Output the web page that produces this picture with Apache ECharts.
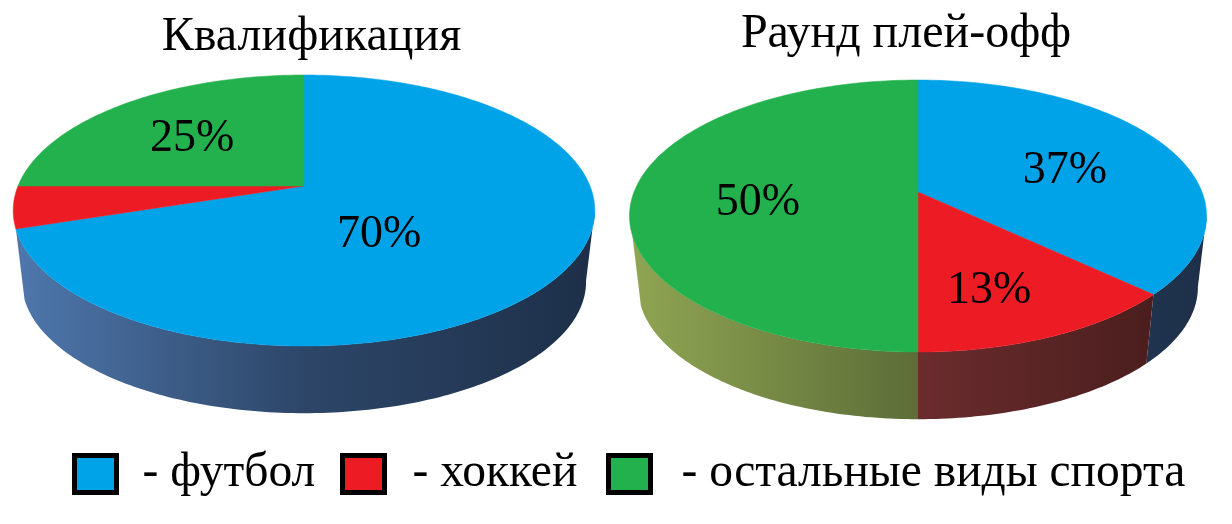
<!DOCTYPE html>
<html><head><meta charset="utf-8">
<style>html,body{margin:0;padding:0;background:#fff}#c{width:1232px;height:524px}</style>
<script src="https://cdn.jsdelivr.net/npm/echarts@6/dist/echarts.min.js"></script>
</head><body><div id="c"></div>
<script>
// ---- data ----
var categories = ['футбол', 'хоккей', 'остальные виды спорта'];
var stages = ['Квалификация', 'Раунд плей-офф'];
var qualificationShares = [70, 5, 25];
var playoffShares = [37, 13, 50];
var minLabelledShare = 10;

// ---- styles and layout ----
var topColors = ['#00a2e8', '#ed1c24', '#22b14c'];
var wallStops = [
  ['#4f78ad', '#2d4668', '#1d2f48'],
  ['#9a4244', '#6b2c2e', '#431b19'],
  ['#90a653', '#5c6d37', '#3d4a25']
];
var font = '"Liberation Serif","Times New Roman",serif';
var pies = [
  {cx: 304, top: 75, apex: 186, bottom: 346, halfWidth: 286, bboxL: 13, bboxR: 595},
  {cx: 918, top: 80, apex: 192, bottom: 352, halfWidth: 284, bboxL: 628, bboxR: 1207}
];
var labelNudges = [
  [[-60, 4], [0, 0], [-8, 1]],
  [[9, 7], [3, 26], [-4, 11]]
];
var wallDrop = 72, wallScale = 0.97;
var wallFrom = 100, wallTo = 252;
var sharesByPie = [qualificationShares, playoffShares];

pies.forEach(function (p) {
  p.c = (2 * p.apex - p.top - p.bottom) / (p.bottom - p.top);
  p.a = p.bottom * (1 + p.c) - p.apex;
});
function project(p, deg, r) {
  var t = deg * Math.PI / 180, u = Math.sin(t) * r, v = -Math.cos(t) * r;
  var d = 1 + p.c * v;
  return [p.cx + p.halfWidth * u / d, (p.a * v + p.apex) / d];
}
function lowered(p, pt) {
  return [p.cx + (pt[0] - p.cx) * wallScale, p.apex + (pt[1] - p.apex) * wallScale + wallDrop];
}
function arc(p, from, to) {
  var out = [], n = Math.max(2, Math.ceil(Math.abs(to - from)));
  for (var i = 0; i <= n; i++) out.push(project(p, from + (to - from) * i / n, 1));
  return out;
}
function renderSegment(params, api) {
  var pieIdx = api.value(0), share = api.value(1), start = api.value(2);
  var cat = params.seriesIndex, p = pies[pieIdx];
  var a0 = start * 3.6, a1 = (start + share) * 3.6;
  var children = [];
  var w0 = Math.max(a0, wallFrom), w1 = Math.min(a1, wallTo);
  if (w1 > w0) {
    var rim = arc(p, w0, w1);
    var low = rim.map(function (q) { return lowered(p, q); }).reverse();
    var s = wallStops[cat];
    children.push({
      type: 'polygon', z2: 1,
      shape: {points: rim.concat(low)},
      style: {
        fill: {type: 'linear', x: p.bboxL, y: 0, x2: p.bboxR, y2: 0, global: true,
          colorStops: [{offset: 0, color: s[0]}, {offset: 0.5, color: s[1]}, {offset: 1, color: s[2]}]},
        stroke: null
      }
    });
  }
  children.push({
    type: 'polygon', z2: 2,
    shape: {points: [[p.cx, p.apex]].concat(arc(p, a0, a1))},
    style: {fill: topColors[cat], stroke: topColors[cat], lineWidth: 0.5}
  });
  if (share >= minLabelledShare) {
    var mid = project(p, (a0 + a1) / 2, 0.55), nudge = labelNudges[pieIdx][cat];
    children.push({
      type: 'text', z2: 5,
      style: {text: share + '%', x: mid[0] + nudge[0], y: mid[1] + nudge[1],
        font: '46px ' + font, fill: '#000', textAlign: 'center', textVerticalAlign: 'middle'}
    });
  }
  return {type: 'group', children: children};
}

var series = categories.map(function (name, cat) {
  var data = sharesByPie.map(function (shares, pieIdx) {
    var start = 0;
    for (var i = 0; i < cat; i++) start += shares[i];
    return [pieIdx, shares[cat], start];
  });
  return {
    type: 'custom', name: name, coordinateSystem: 'none', silent: true, animation: false,
    itemStyle: {color: topColors[cat]},
    encode: {value: [1]},
    renderItem: renderSegment, data: data
  };
});

var legendLeft = [72, 340, 606];
var legendPad = [21, 23, 26];
var chart = echarts.init(document.getElementById('c'), null, {renderer: 'canvas'});
chart.setOption({
  backgroundColor: '#fff',
  animation: false,
  title: [
    {text: stages[0], left: 306.5, top: 8, textAlign: 'center',
      textStyle: {fontFamily: font, fontSize: 48, fontWeight: 'normal', color: '#000'}},
    {text: stages[1], left: 901, top: 5, textAlign: 'center',
      textStyle: {fontFamily: font, fontSize: 48, fontWeight: 'normal', color: '#000'}}
  ],
  legend: categories.map(function (name, i) {
    return {
      data: [name], left: legendLeft[i], top: 450, icon: 'rect', itemWidth: 42, itemHeight: 37,
      selectedMode: false, padding: 0,
      itemStyle: {borderColor: '#000', borderWidth: 5},
      formatter: '- {name}',
      textStyle: {fontFamily: font, fontSize: 47.5, color: '#000', padding: [0, 0, 0, legendPad[i]]}
    };
  }),
  series: series
});
</script></body></html>
